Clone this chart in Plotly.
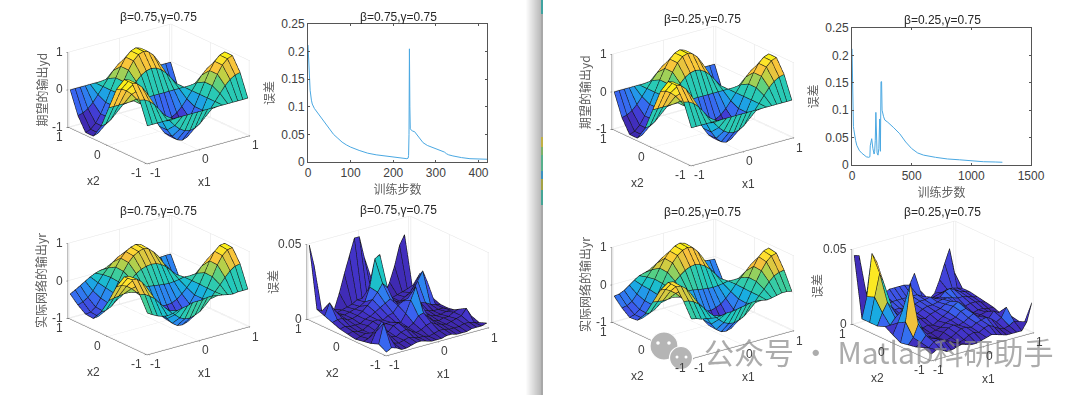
import plotly.graph_objects as go

W, H = 1080, 395

x1_vals = [-1, -.9, -.8, -.7, -.6, -.5, -.4, -.3, -.2, -.1, 0, .1, .2, .3, .4, .5, .6, .7, .8, .9, 1]
x2_vals = [-1, -.8, -.6, -.4, -.2, 0, .2, .4, .6, .8, 1]

yd = [
 [0]*21,
 [.59,.56,.48,.35,.18,0,-.18,-.35,-.48,-.56,-.59,-.56,-.48,-.35,-.18,0,.18,.35,.48,.56,.59],
 [.95,.90,.77,.56,.29,0,-.29,-.56,-.77,-.90,-.95,-.90,-.77,-.56,-.29,0,.29,.56,.77,.90,.95],
 [.95,.90,.77,.56,.29,0,-.29,-.56,-.77,-.90,-.95,-.90,-.77,-.56,-.29,0,.29,.56,.77,.90,.95],
 [.59,.56,.48,.35,.18,0,-.18,-.35,-.48,-.56,-.59,-.56,-.48,-.35,-.18,0,.18,.35,.48,.56,.59],
 [0]*21,
 [-.59,-.56,-.48,-.35,-.18,0,.18,.35,.48,.56,.59,.56,.48,.35,.18,0,-.18,-.35,-.48,-.56,-.59],
 [-.95,-.90,-.77,-.56,-.29,0,.29,.56,.77,.90,.95,.90,.77,.56,.29,0,-.29,-.56,-.77,-.90,-.95],
 [-.95,-.90,-.77,-.56,-.29,0,.29,.56,.77,.90,.95,.90,.77,.56,.29,0,-.29,-.56,-.77,-.90,-.95],
 [-.59,-.56,-.48,-.35,-.18,0,.18,.35,.48,.56,.59,.56,.48,.35,.18,0,-.18,-.35,-.48,-.56,-.59],
 [0]*21,
]

yr_a = [
 [.10,.02,-.05,-.10,-.12,-.10,-.05,-.02,.0,.05,.05,.05,.08,.08,.05,.03,.0,-.02,.0,.0,.0],
 [.50,.47,.38,.28,.12,-.03,-.16,-.30,-.42,-.48,-.50,-.46,-.40,-.28,-.14,.02,.17,.33,.47,.56,.58],
 [.80,.78,.66,.47,.22,-.03,-.28,-.50,-.66,-.76,-.78,-.74,-.62,-.44,-.22,.02,.29,.57,.78,.90,.92],
 [.78,.76,.64,.45,.22,-.03,-.26,-.48,-.62,-.72,-.74,-.70,-.60,-.42,-.22,.03,.30,.58,.80,.92,.94],
 [.42,.42,.36,.26,.12,-.02,-.15,-.26,-.36,-.42,-.44,-.42,-.36,-.25,-.12,.03,.19,.35,.48,.55,.56],
 [-.05,-.02,.0,.02,.02,.02,.03,.05,.04,.02,.0,-.02,-.03,-.02,.0,.03,.02,.0,.0,.0,.0],
 [-.45,-.44,-.38,-.26,-.12,.05,.20,.32,.40,.44,.46,.44,.38,.28,.14,.0,-.14,-.28,-.38,-.44,-.46],
 [-.72,-.70,-.60,-.42,-.18,.08,.32,.52,.66,.74,.78,.74,.62,.46,.24,.0,-.24,-.44,-.60,-.70,-.72],
 [-.70,-.68,-.58,-.38,-.14,.10,.34,.54,.68,.76,.80,.76,.64,.48,.26,.02,-.22,-.44,-.60,-.70,-.72],
 [-.55,-.50,-.42,-.28,-.10,.08,.22,.34,.44,.50,.50,.46,.40,.30,.18,.02,-.14,-.28,-.38,-.46,-.48],
 [-.35,-.28,-.20,-.12,-.04,.02,.06,.08,.05,.04,.03,.02,.02,.03,.02,.0,-.02,-.03,-.03,-.02,-.02],
]

yr_b = [
 [.05,.02,-.03,-.05,-.08,-.10,-.08,-.05,-.05,-.03,.0,.02,.05,.05,.03,.0,.02,.05,.08,.08,.05],
 [.42,.40,.34,.24,.10,-.05,-.18,-.32,-.44,-.50,-.52,-.48,-.42,-.30,-.14,.02,.16,.32,.44,.50,.52],
 [.72,.70,.60,.42,.20,-.05,-.30,-.54,-.72,-.82,-.84,-.80,-.68,-.48,-.24,.02,.27,.52,.72,.84,.88],
 [.74,.72,.60,.42,.20,-.04,-.28,-.52,-.70,-.80,-.82,-.78,-.66,-.46,-.22,.03,.28,.54,.76,.88,.92],
 [.44,.42,.34,.24,.10,-.04,-.16,-.28,-.40,-.46,-.48,-.44,-.38,-.26,-.12,.04,.18,.32,.46,.54,.58],
 [.02,.0,-.02,-.02,.0,.02,.04,.06,.05,.02,.0,-.02,-.03,-.02,.0,.03,.02,.02,.03,.04,.05],
 [-.40,-.40,-.34,-.22,-.08,.10,.26,.38,.48,.54,.56,.52,.44,.32,.16,.0,-.14,-.26,-.36,-.40,-.42],
 [-.66,-.64,-.56,-.36,-.12,.14,.40,.62,.78,.88,.92,.88,.74,.54,.28,.02,-.22,-.42,-.58,-.66,-.68],
 [-.68,-.64,-.54,-.34,-.08,.16,.42,.64,.80,.90,.94,.90,.76,.56,.30,.04,-.20,-.42,-.58,-.68,-.70],
 [-.52,-.50,-.42,-.26,-.06,.12,.28,.42,.52,.58,.60,.56,.46,.34,.20,.04,-.12,-.26,-.38,-.46,-.48],
 [-.30,-.28,-.22,-.12,-.02,.06,.10,.14,.14,.12,.10,.08,.06,.05,.04,.02,.0,-.02,-.02,-.04,-.05],
]

err_a = [
 [.002,.004,.003,.001,.001,.002,.003,.003,.002,.001,.001,.001,.002,.002,.001,.001,.001,.002,.002,.002,.003],
 [.005,.018,.009,.003,.002,.003,.004,.003,.002,.002,.001,.002,.003,.003,.002,.002,.002,.003,.003,.002,.001],
 [.003,.010,.015,.008,.004,.003,.005,.006,.004,.002,.003,.005,.006,.004,.003,.002,.003,.004,.005,.009,.003],
 [.002,.003,.006,.005,.003,.004,.007,.008,.005,.003,.005,.009,.010,.006,.003,.002,.003,.003,.005,.006,.005],
 [.001,.002,.003,.002,.003,.005,.006,.006,.005,.004,.009,.017,.025,.013,.005,.003,.002,.002,.003,.003,.002],
 [.002,.003,.002,.002,.004,.006,.006,.005,.007,.008,.012,.014,.015,.010,.006,.004,.003,.002,.002,.002,.001],
 [.003,.004,.003,.003,.003,.005,.006,.008,.010,.012,.014,.009,.007,.005,.006,.007,.006,.005,.003,.002,.001],
 [.005,.006,.006,.004,.004,.005,.007,.010,.013,.017,.022,.018,.010,.006,.005,.007,.011,.017,.023,.014,.003],
 [.007,.015,.009,.005,.004,.005,.006,.007,.009,.018,.036,.038,.018,.006,.004,.003,.005,.007,.012,.018,.004],
 [.009,.007,.004,.003,.003,.004,.005,.006,.008,.008,.009,.008,.007,.005,.004,.003,.004,.005,.006,.007,.002],
 [.050,.035,.004,.001,.001,.002,.012,.024,.035,.046,.046,.031,.020,.006,.002,.002,.010,.020,.033,.039,.001],
]

err_b = [
 [.004,.006,.005,.003,.003,.004,.005,.004,.003,.003,.004,.005,.006,.005,.004,.003,.003,.003,.003,.008,.020],
 [.006,.005,.008,.009,.007,.005,.004,.003,.004,.006,.007,.006,.008,.009,.007,.005,.004,.005,.007,.006,.004],
 [.004,.006,.010,.007,.006,.004,.003,.004,.006,.008,.008,.007,.009,.010,.011,.009,.006,.008,.014,.007,.003],
 [.003,.007,.015,.010,.005,.003,.002,.005,.007,.008,.007,.008,.010,.012,.009,.006,.006,.010,.008,.004,.002],
 [.002,.015,.040,.018,.006,.003,.003,.004,.005,.007,.008,.009,.012,.013,.008,.005,.006,.007,.005,.003,.003],
 [.005,.012,.020,.012,.007,.005,.004,.005,.004,.006,.008,.010,.013,.015,.012,.006,.005,.006,.006,.005,.005],
 [.008,.008,.012,.010,.008,.006,.006,.007,.006,.008,.009,.010,.012,.013,.011,.008,.007,.008,.008,.007,.006],
 [.006,.014,.020,.015,.010,.008,.009,.008,.007,.009,.010,.010,.011,.012,.012,.011,.010,.010,.009,.008,.007],
 [.006,.022,.037,.028,.014,.010,.010,.009,.009,.010,.011,.011,.012,.010,.010,.013,.014,.012,.010,.009,.008],
 [.006,.020,.048,.041,.016,.010,.012,.012,.012,.012,.012,.012,.010,.008,.007,.008,.009,.010,.010,.009,.008],
 [.046,.045,.006,.005,.008,.012,.015,.017,.017,.017,.017,.016,.023,.011,.004,.003,.006,.014,.024,.033,.016],
]

steps_a = [0,1,2,3,5,8,10,15,20,30,40,50,60,70,80,90,100,120,140,160,180,200,220,232,235,236,237,238,239,240,245,250,255,260,270,280,290,300,310,320,325,330,340,350,360,380,400,420]
loss_a = [.212,.19,.17,.15,.13,.112,.105,.097,.092,.082,.07,.06,.05,.043,.036,.031,.027,.021,.016,.013,.011,.009,.007,.006,.007,.012,.05,.205,.1,.06,.056,.055,.05,.043,.035,.03,.027,.023,.02,.018,.015,.013,.011,.009,.008,.006,.005,.005]
steps_b = [0,3,5,8,12,15,20,30,40,60,80,100,120,140,150,153,158,165,175,185,190,195,200,205,210,218,225,232,238,243,248,252,258,265,275,300,350,400,450,500,550,600,700,800,900,1000,1100,1200,1260]
loss_b = [.212,.17,.09,.08,.07,.065,.055,.045,.036,.027,.022,.018,.015,.014,.015,.035,.042,.048,.03,.02,.025,.045,.096,.035,.022,.018,.03,.084,.025,.152,.152,.1,.092,.088,.082,.078,.068,.057,.042,.03,.022,.018,.014,.011,.0095,.0075,.006,.0055,.005]

title_a = "β=0.75,γ=0.75"
title_b = "β=0.25,γ=0.75"
watermark = "公众号 · Matlab科研助手"

parula = [[0,"#3e26a8"],[.1,"#4336cf"],[.2,"#3b60f0"],[.3,"#2a8af0"],[.4,"#18aee0"],[.5,"#1fc8c0"],
          [.6,"#50d088"],[.7,"#c0d044"],[.8,"#f8c03c"],[.9,"#fee030"],[1,"#fbf018"]]

SANS = "Liberation Sans, Arial, sans-serif"
CJK = "Noto Sans CJK SC, sans-serif"
TICK = "#404040"
EYE_R = 1.4
PAD = 1.025
ASPECT_XY = 1.44 * PAD
ASPECT_Z = 0.91
DIR = (-.569, -.740, .358)
NUDGE = .016


def fx(p):
    return p / W


def fy(p):
    return 1 - p / H


fig = go.Figure()


def add_surface(name, z, cmin, cmax, zspan, last_corner):
    xs, ys, zs, ii, jj, kk, cells = [], [], [], [], [], [], []
    nc, nr = len(x1_vals), len(x2_vals)
    for r, row in enumerate(z):
        for c, v in enumerate(row):
            xs.append(x1_vals[c]); ys.append(x2_vals[r]); zs.append(v)
    for r in range(nr - 1):
        for c in range(nc - 1):
            a = r * nc + c
            b, d, e = a + 1, a + nc, a + nc + 1
            ii += [a, a]; jj += [b, e]; kk += [e, d]
            tone = z[r][c]
            if last_corner and r + 1 < nr - 1 and c + 1 < nc - 1:
                tone = z[r + 1][c + 1]
            cells += [tone, tone]
    fig.add_trace(go.Mesh3d(scene=name, x=xs, y=ys, z=zs, i=ii, j=jj, k=kk, intensity=cells,
                            intensitymode="cell", colorscale=parula, cmin=cmin, cmax=cmax,
                            showscale=False, flatshading=True, hoverinfo="skip",
                            lighting=dict(ambient=1, diffuse=0, specular=0, roughness=1, fresnel=0)))
    # mesh lines are nudged a hair toward the camera so the faces do not swallow them
    ox = DIR[0] * NUDGE / (ASPECT_XY / (2 * PAD))
    oy = DIR[1] * NUDGE / (ASPECT_XY / (2 * PAD))
    oz = DIR[2] * NUDGE * zspan / ASPECT_Z
    lx, ly, lz = [], [], []
    for r in range(nr):
        lx += [v + ox for v in x1_vals] + [None]; ly += [x2_vals[r] + oy] * nc + [None]
        lz += [v + oz for v in z[r]] + [None]
    for c in range(nc):
        lx += [x1_vals[c] + ox] * nr + [None]
        ly += [v + oy for v in x2_vals] + [None]
        lz += [z[r][c] + oz for r in range(nr)] + [None]
    fig.add_trace(go.Scatter3d(scene=name, x=lx, y=ly, z=lz, mode="lines", hoverinfo="skip",
                               line=dict(color="#151515", width=1.2), showlegend=False))


def scene_layout(cx, cy, ztick, ztext, zrange, zlabel, zshift):
    dw, dh = 230, 176
    def ax(vals, text, rng):
        return dict(range=rng, tickvals=vals, ticktext=text, showticklabels=False, title=dict(text=""),
                    showbackground=False, showgrid=True, gridcolor="#e4e4e4", gridwidth=1,
                    showline=True, linecolor="#555555", linewidth=1, zeroline=False,
                    showspikes=False, ticks="outside", ticklen=2, tickcolor="#555555")
    def note(x, y, z, text, sx, sy, anchor="center", angle=0, font=SANS, size=12, col=TICK):
        return dict(x=x, y=y, z=z, text=text, showarrow=False, xshift=sx, yshift=-sy, xanchor=anchor,
                    yanchor="middle", textangle=angle, font=dict(family=font, size=size, color=col))
    notes = []
    for v, t in zip([-1, 0, 1], ["-1", "0", "1"]):
        notes.append(note(v, -1, zrange[0], t, 8, 10))
        notes.append(note(-1, v, zrange[0], t, -11, 10))
    for v, t in zip(ztick, ztext):
        notes.append(note(-1, 1, v, t, -5, 0, anchor="right"))
    notes.append(note(0, -1, zrange[0], "x1", 7, 33))
    notes.append(note(-1, 0, zrange[0], "x2", -15, 36))
    notes.append(note(-1, 1, (zrange[0] + zrange[1]) / 2, zlabel, zshift, 0, angle=-90, font=CJK, col="#606060"))
    return dict(domain=dict(x=[fx(cx - dw / 2), fx(cx + dw / 2)], y=[fy(cy + dh / 2), fy(cy - dh / 2)]),
                xaxis=ax([-1, 0, 1], ["-1", "0", "1"], [-PAD, PAD]),
                yaxis=ax([-1, 0, 1], ["-1", "0", "1"], [-PAD, PAD]),
                zaxis=ax(ztick, ztext, zrange),
                aspectmode="manual", aspectratio=dict(x=ASPECT_XY, y=ASPECT_XY, z=ASPECT_Z),
                camera=dict(projection=dict(type="orthographic"),
                            eye=dict(x=DIR[0] * EYE_R, y=DIR[1] * EYE_R, z=DIR[2] * EYE_R),
                            up=dict(x=0, y=0, z=1), center=dict(x=0, y=0, z=0)),
                bgcolor="rgba(0,0,0,0)", annotations=notes)


zt, zl = [-1, 0, 1], ["-1", "0", "1"]
et, el = [0, .05], ["0", "0.05"]
panels = [
    ("scene", yd, -1, .92, (159, 93.5), zt, zl, [-1, 1], "期望的输出yd", -29, False),
    ("scene2", yr_a, -1, .92, (159, 285), zt, zl, [-1, 1], "实际网络的输出yr", -29, False),
    ("scene3", err_a, .002, .075, (398, 286), et, el, [0, .05], "误差", -36, True),
    ("scene4", yd, -1, .92, (703, 96), zt, zl, [-1, 1], "期望的输出yd", -29, False),
    ("scene5", yr_b, -1, .92, (703, 289), zt, zl, [-1, 1], "实际网络的输出yr", -29, False),
    ("scene6", err_b, .004, .05, (942.5, 290.5), et, el, [0, .05], "误差", -37, True),
]
scene_settings = {}
for name, z, cmin, cmax, (cx, cy), ztv, ztt, zr, lab, zs, last in panels:
    add_surface(name, z, cmin, cmax, zr[1] - zr[0], last)
    scene_settings[name] = scene_layout(cx, cy, ztv, ztt, zr, lab, zs)

LINE = "#4aa8e2"
fig.add_trace(go.Scatter(x=steps_a, y=loss_a, mode="lines", xaxis="x", yaxis="y", line=dict(color=LINE, width=1), showlegend=False))
fig.add_trace(go.Scatter(x=steps_b, y=loss_b, mode="lines", xaxis="x2", yaxis="y2", line=dict(color=LINE, width=1), showlegend=False))


def cart_x(dom, rng, vals, anchor):
    return dict(domain=[fx(dom[0]), fx(dom[1])], range=rng, tickvals=vals, ticktext=[str(v) for v in vals],
                anchor=anchor, showline=True, mirror="ticks", linecolor="#555555", ticks="inside", ticklen=2,
                tickcolor="#555555", showgrid=False, zeroline=False, tickfont=dict(family=SANS, size=12, color=TICK),
                title=dict(text="训练步数", standoff=5, font=dict(family=CJK, size=12, color="#606060")))


def cart_y(dom, anchor):
    vals = [0, .05, .1, .15, .2, .25]
    return dict(domain=[fy(dom[1]), fy(dom[0])], range=[0, .25], tickvals=vals,
                ticktext=["0", "0.05", "0.1", "0.15", "0.2", "0.25"], anchor=anchor, showline=True,
                mirror="ticks", linecolor="#555555", ticks="inside", ticklen=2, tickcolor="#555555",
                showgrid=False, zeroline=False, tickfont=dict(family=SANS, size=12, color=TICK),
                title=dict(text="误差", standoff=4, font=dict(family=CJK, size=12, color="#606060")))


shapes = []
for s in range(16):
    g = 255 - int(s * 4.6)
    shapes.append(dict(type="rect", xref="paper", yref="paper", x0=fx(525 + s), x1=fx(526 + s), y0=0, y1=1,
                       line=dict(width=0), fillcolor=f"rgb({g},{g},{g})", layer="below"))
band = [(0, 395, "#a8a8a8"), (0, 14, "#3fa3a0"), (137, 147, "#c0b044"), (147, 155, "#7cb168"),
        (155, 171, "#56b08c"), (171, 179, "#3a92bf"), (179, 190, "#a3a244"), (190, 205, "#44a596")]
for y0, y1, col in band:
    shapes.append(dict(type="rect", xref="paper", yref="paper", x0=fx(541), x1=fx(543), y0=fy(y1), y1=fy(y0),
                       line=dict(width=0), fillcolor=col, layer="below"))
icon = [(664, 346, 14, "#b5b5b5"), (681, 358, 11.5, "#b5b5b5"), (658, 343, 1.8, "white"), (669, 343, 1.8, "white"),
        (677, 357, 1.5, "white"), (686, 357, 1.5, "white")]
for cx, cy, r, col in icon:
    shapes.append(dict(type="circle", xref="paper", yref="paper", x0=fx(cx - r), x1=fx(cx + r),
                       y0=fy(cy + r), y1=fy(cy - r), line=dict(width=0 if col == "white" else 1.2, color="white"),
                       fillcolor=col, layer="above"))

notes = []
for cx, cy, t in [(158, 17, title_a), (398, 17, title_a), (158, 211, title_a), (398, 210, title_a),
                  (702, 19, title_b), (942, 20, title_b), (702, 212, title_b), (942, 212, title_b)]:
    notes.append(dict(x=fx(cx), y=fy(cy), xref="paper", yref="paper", text=t, showarrow=False, xanchor="center",
                      yanchor="middle", font=dict(family=SANS, size=12, color="#262626")))
notes.append(dict(x=fx(702), y=fy(351), xref="paper", yref="paper", text=watermark, showarrow=False, xanchor="left",
                  yanchor="middle", font=dict(family=CJK, size=30, color="rgba(140,140,140,0.72)")))

fig.update_layout(width=W, height=H, margin=dict(l=0, r=0, t=0, b=0, autoexpand=False), autosize=False, showlegend=False,
                  paper_bgcolor="white", plot_bgcolor="rgba(0,0,0,0)", shapes=shapes, annotations=notes,
                  xaxis=cart_x((308, 487), [0, 420], [0, 100, 200, 300, 400], "y"),
                  yaxis=cart_y((24, 162), "x"),
                  xaxis2=cart_x((852, 1031), [0, 1500], [0, 500, 1000, 1500], "y2"),
                  yaxis2=cart_y((28, 165), "x2"),
                  **scene_settings)

fig.write_html("out.html", config=dict(displayModeBar=False, responsive=False),
               default_width="1080px", default_height="395px",
               post_script="document.body.style.margin='0';document.documentElement.style.overflow='hidden';")
